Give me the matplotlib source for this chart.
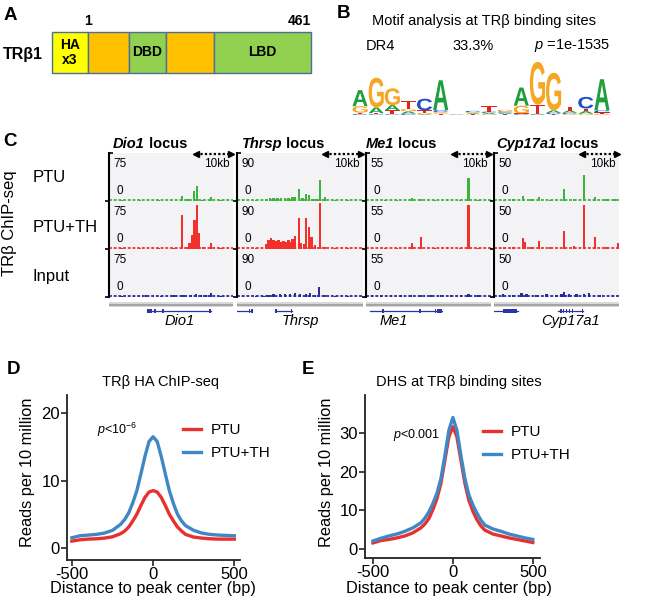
import matplotlib
matplotlib.use('Agg')
import matplotlib.pyplot as plt
from matplotlib.textpath import TextPath
from matplotlib.patches import PathPatch
from matplotlib.font_manager import FontProperties
from matplotlib.transforms import Affine2D

plt.rcParams['font.family'] = ['Liberation Sans', 'DejaVu Sans']
plt.rcParams['mathtext.fontset'] = 'custom'
plt.rcParams['mathtext.rm'] = 'Liberation Sans'
plt.rcParams['mathtext.it'] = 'Liberation Sans:italic'
plt.rcParams['axes.unicode_minus'] = False

# ---------------- DATA ----------------
# Panel A: TRβ1 domain map (amino-acid coordinates)
domain_names = ['HA\nx3', '', 'DBD', '', 'LBD']
domain_start = [-73, 1, 86, 162, 261]
domain_end = [1, 86, 162, 261, 461]
domain_colors = ['#ffff00', '#ffc000', '#92d050', '#ffc000', '#92d050']

# Panel B: DR4 motif logo (letter heights per position, bits)
logo_A = [0.62, 0.22, 0.20, 0.08, 0.03, 1.15, 0.01, 0.04, 0.05, 0.05, 0.70, 0.03, 0.10, 0.08, 0.10, 1.20]
logo_C = [0.04, 0.03, 0.03, 0.06, 0.45, 0.08, 0.01, 0.05, 0.05, 0.05, 0.03, 0.02, 0.05, 0.05, 0.45, 0.08]
logo_G = [0.25, 1.15, 0.65, 0.10, 0.05, 0.06, 0.01, 0.04, 0.03, 0.06, 0.30, 1.65, 1.45, 0.04, 0.05, 0.05]
logo_T = [0.05, 0.04, 0.15, 0.30, 0.10, 0.05, 0.01, 0.03, 0.20, 0.04, 0.03, 0.35, 0.03, 0.15, 0.10, 0.05]
logo_colors = {'A': '#1e9e3c', 'C': '#1f4fc4', 'G': '#f5a623', 'T': '#e3231c'}

# Panel C: ChIP-seq tracks (position in % of locus window, signal)
loci = ['Dio1', 'Thrsp', 'Me1', 'Cyp17a1']
track_scales = [75, 90, 55, 50]
conditions = ['PTU', 'PTU+TH', 'Input']
track_colors = ['#3cb43c', '#f2302c', '#2a2a9e']

dio1_ptu_pos = [10, 25, 40, 50, 59, 64, 68.5, 71, 75, 82, 90]
dio1_ptu_h = [1.5, 1.5, 1.5, 2, 8, 2.5, 16, 24, 2, 6, 1.5]
dio1_th_pos = [10, 25, 40, 52, 59, 63, 65, 67, 69, 71, 72.6, 76, 82, 90]
dio1_th_h = [1.5, 1.5, 2, 2, 53, 3, 9, 22, 45, 69, 25, 3, 10, 1.5]
dio1_in_pos = [10, 20, 30, 42, 52, 60, 66, 70, 74, 78, 82, 90]
dio1_in_h = [2, 2, 2.5, 2, 2.5, 2.5, 3, 4, 3, 2.5, 6, 2]

thrsp_ptu_pos = [5, 15, 23, 26, 29, 32, 35, 38, 41, 44, 46, 49, 52, 55, 57, 60, 63, 66, 70, 78, 88]
thrsp_ptu_h = [1.5, 1.5, 4, 5, 6, 5, 6, 5, 6, 7, 8, 22, 5, 14, 11, 4, 4, 40, 7, 2, 2]
thrsp_th_pos = [5, 15, 23, 25, 27, 29, 31, 33, 35, 37, 39, 41, 43, 44, 46, 49, 51, 53, 55, 57, 59, 62, 66, 70, 78, 88]
thrsp_th_h = [1.5, 2, 10, 17, 20, 16, 15, 17, 14, 15, 13, 16, 14, 18, 25, 59, 12, 10, 59, 42, 23, 8, 86, 4, 2, 2]
thrsp_in_pos = [5, 15, 21, 25, 29, 34, 38, 42, 46, 50, 55, 58, 62, 65, 70, 78, 88]
thrsp_in_h = [2, 2, 2, 4, 5, 5, 6, 6, 8, 6, 5, 7, 3, 18, 3, 2, 2]

me1_ptu_pos = [5, 15, 25, 37, 44, 55, 65, 75, 82, 90]
me1_ptu_h = [1.5, 1.5, 1.5, 3, 2, 1.5, 2, 1.5, 26, 1.5]
me1_th_pos = [5, 15, 25, 35, 37, 44, 55, 65, 75, 82, 90]
me1_th_h = [1.5, 1.5, 1.5, 2.5, 7, 14, 1.5, 2, 1.5, 50, 1.5]
me1_in_pos = [5, 12, 20, 28, 36, 44, 52, 60, 68, 76, 82, 90]
me1_in_h = [2, 2.5, 2, 2.5, 2, 2.5, 2, 2.5, 2, 2, 4, 2]

cyp_ptu_pos = [8, 15, 23, 30, 36, 45, 56, 64, 72, 81, 90, 97]
cyp_ptu_h = [1.5, 2, 5, 2, 4, 1.5, 12, 2, 27, 4, 2, 2]
cyp_th_pos = [8, 15, 23, 25, 30, 36, 45, 56, 64, 72, 81, 90, 99]
cyp_th_h = [2, 2, 11, 7, 2, 8, 2, 19, 3, 46, 12, 2, 6]
cyp_in_pos = [7, 15, 22, 26, 34, 42, 50, 54, 56, 60, 66, 72, 76, 85, 95]
cyp_in_h = [3, 2, 4, 3, 2, 3, 2.5, 3.5, 5, 3, 3.5, 3, 4, 2, 2]

# gene models (% of locus window)
gene_lines = [[(30.6, 82)], [(0, 12), (30, 44)], [(3, 61)], [(0, 19), (51, 71)]]
gene_exons = [[(30.6, 34.7), (36.5, 37.5), (43, 44), (80.5, 82)],
              [(9.5, 10.5), (11.5, 12.5), (30, 32), (42.5, 44)],
              [(13, 14.5), (42.5, 44), (55, 56), (56.5, 61)],
              [(7, 18), (53, 54), (55, 56), (57.5, 58.5), (60, 61), (62, 63), (70, 71)]]

# Panels D/E: aggregate profiles
dist_bp = [-500, -450, -400, -350, -300, -250, -200, -175, -150, -125, -100, -75, -50, -25, 0,
           25, 50, 75, 100, 125, 150, 175, 200, 250, 300, 350, 400, 450, 500]
ha_ptu = [1.0, 1.2, 1.3, 1.35, 1.45, 1.65, 2.1, 2.5, 3.1, 4.0, 5.0, 6.3, 7.5, 8.3, 8.5,
          8.3, 7.5, 6.3, 5.0, 4.0, 3.1, 2.5, 2.0, 1.6, 1.45, 1.35, 1.3, 1.3, 1.3]
ha_th = [1.5, 1.8, 1.9, 2.0, 2.2, 2.6, 3.5, 4.2, 5.2, 6.7, 8.5, 11.0, 13.6, 15.8, 16.5,
         15.8, 13.6, 11.0, 8.5, 6.6, 5.0, 4.0, 3.3, 2.6, 2.2, 2.0, 1.9, 1.85, 1.8]
dhs_ptu = [1.6, 2.2, 2.5, 2.9, 3.4, 4.2, 5.5, 6.5, 7.9, 10.2, 13.0, 17.0, 23.0, 29.0, 31.6,
           29.0, 23.0, 17.0, 12.6, 9.8, 7.6, 6.0, 4.9, 3.9, 3.4, 2.9, 2.5, 2.1, 1.7]
dhs_th = [2.1, 2.8, 3.4, 3.9, 4.6, 5.5, 6.8, 8.0, 9.6, 11.8, 14.4, 18.2, 24.2, 30.7, 34.0,
          30.7, 24.2, 18.2, 14.0, 11.4, 9.3, 7.5, 6.2, 5.2, 4.6, 3.9, 3.4, 2.9, 2.5]
RED = '#e8302e'
BLUE = '#3f88c5'

tracks = {
    ('Dio1', 'PTU'): (dio1_ptu_pos, dio1_ptu_h), ('Dio1', 'PTU+TH'): (dio1_th_pos, dio1_th_h),
    ('Dio1', 'Input'): (dio1_in_pos, dio1_in_h),
    ('Thrsp', 'PTU'): (thrsp_ptu_pos, thrsp_ptu_h), ('Thrsp', 'PTU+TH'): (thrsp_th_pos, thrsp_th_h),
    ('Thrsp', 'Input'): (thrsp_in_pos, thrsp_in_h),
    ('Me1', 'PTU'): (me1_ptu_pos, me1_ptu_h), ('Me1', 'PTU+TH'): (me1_th_pos, me1_th_h),
    ('Me1', 'Input'): (me1_in_pos, me1_in_h),
    ('Cyp17a1', 'PTU'): (cyp_ptu_pos, cyp_ptu_h), ('Cyp17a1', 'PTU+TH'): (cyp_th_pos, cyp_th_h),
    ('Cyp17a1', 'Input'): (cyp_in_pos, cyp_in_h),
}

# ---------------- FIGURE ----------------
W, H = 646, 600
fig = plt.figure(figsize=(W / 100, H / 100), dpi=100)


def pax(l, t, w, h):
    return fig.add_axes([l / W, 1 - (t + h) / H, w / W, h / H])


def ftext(x, y, s, **kw):
    return fig.text(x / W, 1 - y / H, s, **kw)


# panel letters
for lab, (x, y) in zip('ABCDE', [(10, 15), (343, 13), (10, 141), (14, 370), (308, 370)]):
    ftext(x, y, lab, fontsize=13.5, fontweight='bold', ha='center', va='center')

# ---- Panel A ----
axA = pax(52, 32, 259, 41)
axA.set_xlim(-73, 461)
axA.set_ylim(-0.5, 0.5)
axA.axis('off')
bars = axA.barh(0, [e - s for s, e in zip(domain_start, domain_end)], left=domain_start,
                height=1, color=domain_colors, edgecolor='#4a6f9a', linewidth=1.0)
for b in bars:
    b.set_clip_on(False)
for name, s, e in zip(domain_names, domain_start, domain_end):
    if name:
        axA.text((s + e) / 2, 0, name, ha='center', va='center', fontsize=10,
                 fontweight='bold', linespacing=1.05)
axA.text(1, 0.78, '1', ha='center', va='center', fontsize=10, fontweight='bold')
axA.text(461, 0.78, '461', ha='right', va='center', fontsize=10, fontweight='bold')
ftext(3, 55, 'TRβ1', fontsize=11.5, fontweight='bold', va='center')

# ---- Panel B ----
ftext(484, 21, 'Motif analysis at TRβ binding sites', fontsize=10.5, ha='center', va='center')
ftext(366, 46, 'DR4', fontsize=10.5, va='center')
ftext(452, 46, '33.3%', fontsize=10.5, va='center')
ftext(534, 46, r'$p$ =1e-1535', fontsize=10.5, va='center')

axB = pax(352, 58, 258, 57)
axB.set_xlim(0.5, 16.5)
axB.set_ylim(0, 2.2)
axB.axis('off')
fp_logo = FontProperties(family='Liberation Sans', weight='bold')
letter_paths = {L: TextPath((0, 0), L, size=1, prop=fp_logo) for L in 'ACGT'}


def draw_letter(ax, L, x, y, w, h):
    tp = letter_paths[L]
    bb = tp.get_extents()
    tr = Affine2D().translate(-bb.x0, -bb.y0).scale(w / bb.width, h / bb.height).translate(x, y)
    ax.add_patch(PathPatch(tr.transform_path(tp), fc=logo_colors[L], ec='none'))


for i in range(16):
    stack = sorted(zip([logo_A[i], logo_C[i], logo_G[i], logo_T[i]], 'ACGT'))
    y0 = 0
    for h, L in stack:
        draw_letter(axB, L, i + 1 - 0.47, y0, 0.94, h)
        y0 += h

# ---- Panel C ----
col_left = [109, 237, 366, 494]
col_width = [124, 126, 125, 125]
row_top = [153, 201, 249]
row_h = 48
title_x = [113, 242, 366, 496]
gene_name_x = [180, 300, 394, 570]

ftext(10, 223, 'TRβ ChIP-seq', fontsize=12, rotation=90, ha='center', va='center')
for cond, y in zip(conditions, [178, 228, 276]):
    ftext(33, y, cond, fontsize=12, va='center')

renderer = fig.canvas.get_renderer()
for j, locus in enumerate(loci):
    t = ftext(title_x[j], 144, locus, fontsize=10.5, fontweight='bold', style='italic', va='center')
    bb = t.get_window_extent(renderer)
    fig.text(bb.x1 / W, 1 - 144 / H, ' locus', fontsize=10.5, fontweight='bold', va='center')
    sc = track_scales[j]
    for i, cond in enumerate(conditions):
        ax = pax(col_left[j], row_top[i], col_width[j], row_h)
        ax.set_facecolor('#f3f3f5')
        ax.set_xlim(0, 100)
        ax.set_ylim(0, sc)
        for s in ['top', 'right', 'bottom']:
            ax.spines[s].set_visible(False)
        ax.spines['left'].set_linewidth(1.5)
        ax.set_xticks([])
        ax.set_yticks([0])
        ax.tick_params(axis='y', direction='out', length=3, width=1.2, labelleft=False)
        if i == 0:
            ax.set_yticks([sc], minor=True)
            ax.tick_params(axis='y', which='minor', direction='in', length=3, width=1.2, labelleft=False)
        c = track_colors[i]
        ax.axhline(sc * 0.014, color=c, lw=1.3, ls=(0, (1.6, 1.0)))
        pos, hts = tracks[(locus, cond)]
        ax.bar(pos, hts, width=1.9, color=c, linewidth=0)
        ax.text(0.035, 0.77, str(sc), transform=ax.transAxes, fontsize=8.5, va='center')
        ax.text(0.06, 0.2, '0', transform=ax.transAxes, fontsize=8.5, va='center')
        if i == 0:
            ax.plot([0.70, 0.985], [0.975, 0.975], transform=ax.transAxes, color='k',
                    ls=(0, (1, 1)), lw=1.6, clip_on=False)
            ax.plot([0.70], [0.975], marker='<', ms=4, color='k', transform=ax.transAxes, clip_on=False)
            ax.plot([0.985], [0.975], marker='>', ms=4, color='k', transform=ax.transAxes, clip_on=False)
            ax.text(0.97, 0.78, '10kb', transform=ax.transAxes, fontsize=8.5, ha='right', va='center')
    # gene track
    g = pax(col_left[j], 299, col_width[j], 20)
    g.set_facecolor('#f4f4f6')
    g.set_xlim(0, 100)
    g.set_ylim(20, 0)
    g.axis('off')
    g.axhspan(0, 3, color='white', lw=0)
    g.axhspan(3, 8, color='#dadada', lw=0)
    g.axhline(5.5, color='#a5a5a5', lw=1.5)
    for s, e in gene_lines[j]:
        g.plot([s, e], [12, 12], color='#2b35a8', lw=0.9)
    for s, e in gene_exons[j]:
        g.bar((s + e) / 2, 3.4, width=e - s, bottom=10.3, color='#2b35a8', linewidth=0)
    ftext(gene_name_x[j], 321, locus, fontsize=10.5, style='italic', ha='center', va='center')


# ---- Panels D & E ----
def profile(ax, xlim, ylim, yt, p1, p2):
    ax.plot(dist_bp, p1, color=RED, lw=2.4, label='PTU', solid_joinstyle='round')
    ax.plot(dist_bp, p2, color=BLUE, lw=2.4, label='PTU+TH', solid_joinstyle='round')
    ax.set_xlim(*xlim)
    ax.set_ylim(*ylim)
    ax.set_yticks(yt)
    ax.set_xticks([-500, 0, 500])
    for s in ['top', 'right']:
        ax.spines[s].set_visible(False)
    for s in ['left', 'bottom']:
        ax.spines[s].set_linewidth(1.3)
        ax.spines[s].set_color('#222222')
    ax.tick_params(direction='out', length=4, width=1.2, labelsize=12, pad=1, color='#222222')


axD = pax(67, 395, 173, 165)
profile(axD, (-530, 535), (-1.8, 22.7), [0, 10, 20], ha_ptu, ha_th)
axE = pax(365, 395, 175, 163)
profile(axE, (-550, 545), (-2.3, 39.8), [0, 10, 20, 30], dhs_ptu, dhs_th)

ftext(160, 382, 'TRβ HA ChIP-seq', fontsize=10.5, ha='center', va='center')
ftext(459, 382, 'DHS at TRβ binding sites', fontsize=10.5, ha='center', va='center')
ftext(28, 472, 'Reads per 10 million', fontsize=11.8, rotation=90, ha='center', va='center')
ftext(327, 472, 'Reads per 10 million', fontsize=11.8, rotation=90, ha='center', va='center')
ftext(153, 588, 'Distance to peak center (bp)', fontsize=11.8, ha='center', va='center')
ftext(449, 588, 'Distance to peak center (bp)', fontsize=11.8, ha='center', va='center')
ftext(97, 430, r'$p$<10$^{-6}$', fontsize=9, va='center')
ftext(393, 435, r'$p$<0.001', fontsize=9, va='center')

for ax, (x, y) in [(axD, (183, 423)), (axE, (483, 425))]:
    ax.legend(loc='upper left', bbox_to_anchor=(x / W, 1 - y / H), bbox_transform=fig.transFigure,
              frameon=False, fontsize=11, handlelength=1.2, handletextpad=0.6,
              labelspacing=0.6, borderpad=0, borderaxespad=0)

fig.savefig('out.png', dpi=100)
